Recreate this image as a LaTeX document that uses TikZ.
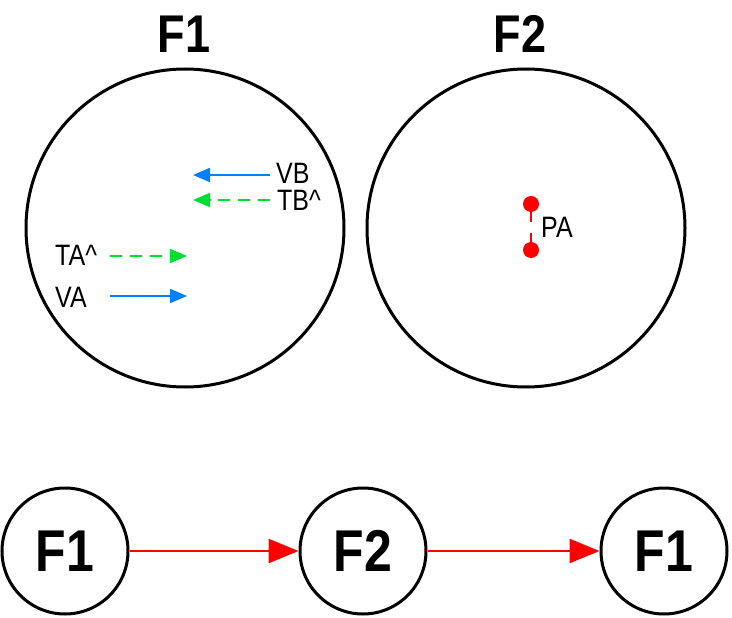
\documentclass[tikz,border=0pt]{standalone}
\usepackage{fontspec}
\setmainfont{Liberation Sans}
\usetikzlibrary{arrows.meta}

\definecolor{velblue}{RGB}{0,128,255}
\definecolor{tangreen}{RGB}{0,221,51}
\newcommand\tall[1]{\scalebox{1}[1.18]{#1}}

\tikzset{
  frame/.style={draw, line width=3pt, circle, minimum size=318pt, inner sep=0pt},
  state/.style={draw, line width=3pt, circle, minimum size=126pt, inner sep=0pt,
    font=\fontsize{50}{50}\selectfont\bfseries},
  title/.style={inner sep=0pt, font=\fontsize{45}{45}\selectfont\bfseries},
  lbl/.style={inner sep=0pt, anchor=base west, font=\fontsize{25}{25}\selectfont},
  vel/.style={velblue, line width=2pt, -{Triangle[length=17pt,width=14pt]}},
  tan/.style={tangreen, line width=2pt, dash pattern=on 12pt off 8pt,
    -{Triangle[length=17pt,width=14pt]}},
  trans/.style={red, line width=2.5pt, -{Triangle[length=30pt,width=24pt]}},
  point/.style={circle, fill=red, minimum size=16pt, inner sep=0pt}
}

\begin{document}
\begin{tikzpicture}[x=1pt,y=-1pt]
  \useasboundingbox (0,0) rectangle (732,618);

  %% frames
  \node[frame] (frameA) at (185,228) {};
  \node[frame] (frameB) at (526,228) {};
  \node[title] (titleA) at (184,34) {\tall{F1}};
  \node[title] (titleB) at (520,34) {\tall{F2}};

  %% vectors in F1
  \coordinate (vbtail) at (270,175);  \coordinate (vbtip) at (193,175);
  \coordinate (tbtail) at (270,200);  \coordinate (tbtip) at (193,200);
  \coordinate (tatail) at (110,256);  \coordinate (tatip) at (187,256);
  \coordinate (vatail) at (110,296);  \coordinate (vatip) at (187,296);
  \draw[vel] (vbtail) -- (vbtip); %% VB
  \draw[tan] (tbtail) -- (tbtip); %% TB
  \draw[tan] (tatail) -- (tatip); %% TA
  \draw[vel] (vatail) -- (vatip); %% VA
  \node[lbl] (vb) at (276,183) {\tall{VB}};
  \node[lbl] (tb) at (277,210) {\tall{TB\textasciicircum}};
  \node[lbl] (ta) at (55,265) {\tall{TA\textasciicircum}};
  \node[lbl] (va) at (55,307) {\tall{VA}};

  %% points in F2
  \node[point] (pa1) at (531,204) {};
  \node[point] (pa2) at (531,250) {};
  \draw[red, line width=2pt, dash pattern=on 10pt off 11pt] (pa1) -- (pa2);
  \node[lbl] (pa) at (541,237) {\tall{PA}};

  %% sequence
  \node[state] (seqA) at (65,551) {\tall{F1}};
  \node[state] (seqB) at (363,551) {\tall{F2}};
  \node[state] (seqC) at (664,551) {\tall{F1}};
  \draw[trans] (seqA) -- (seqB);
  \draw[trans] (seqB) -- (seqC);

\end{tikzpicture}
\end{document}
